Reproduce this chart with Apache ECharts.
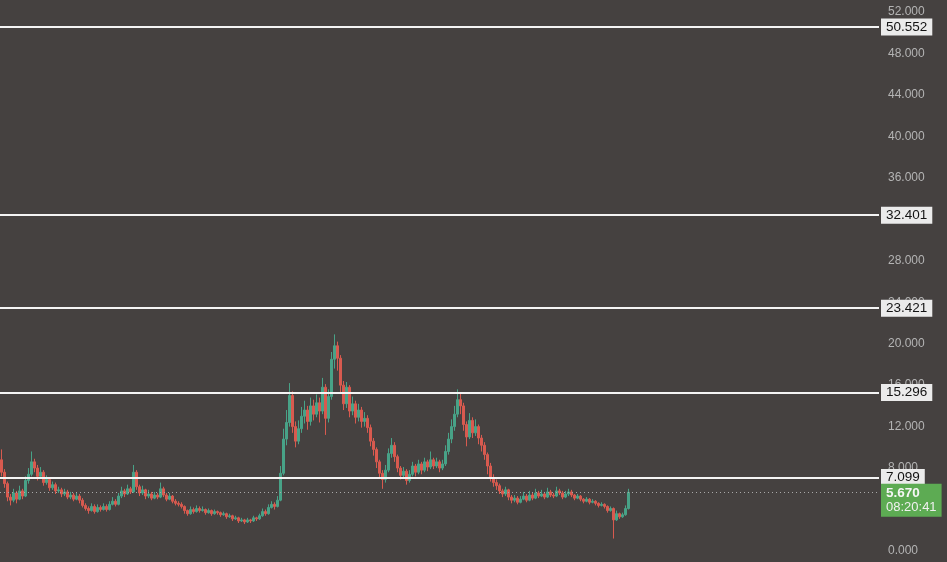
<!DOCTYPE html>
<html>
<head>
<meta charset="utf-8">
<script src="https://cdn.jsdelivr.net/npm/echarts@6/dist/echarts.min.js"></script>
<style>
html,body{margin:0;padding:0;background:#454140;}
#chart{width:947px;height:562px;}
</style>
</head>
<body>
<div id="chart"></div>
<script>
// ---- data ----
var opens = [
8.8,7.6,6.5,5.2,4.9,5.6,5.0,5.8,5.3,6.8,
7.4,8.6,8.0,7.2,7.6,6.6,6.9,6.1,6.4,5.8,
5.9,5.5,5.7,5.2,5.4,5.0,5.3,4.9,4.4,4.1,
3.9,4.3,3.8,4.2,4.0,4.3,4.0,4.5,4.8,4.5,
5.3,5.8,5.5,6.0,5.7,7.6,6.2,5.6,5.9,5.3,
5.5,5.1,5.4,5.2,6.0,5.4,5.0,5.3,4.8,4.6,
4.5,4.3,3.9,3.6,4.0,3.8,4.1,3.9,4.0,3.7,
3.9,3.6,3.8,3.7,3.5,3.6,3.3,3.4,3.1,3.2,
2.9,3.0,2.8,3.0,2.9,3.2,3.1,3.4,3.8,3.6,
4.2,4.5,4.3,4.9,7.5,10.8,12.4,15.0,12.0,10.6,
11.8,13.0,13.6,12.5,14.0,13.2,14.3,13.5,15.8,12.8,
14.9,18.5,19.8,18.6,16.0,14.2,15.8,13.5,14.2,12.9,
13.6,12.5,12.8,11.9,10.6,9.8,8.6,7.5,6.9,7.8,
9.4,10.2,9.1,8.0,7.3,7.7,6.8,7.4,8.2,7.6,
8.4,7.8,8.6,8.1,8.8,8.2,8.6,8.0,8.4,9.6,
10.8,12.0,13.2,14.6,14.0,12.2,11.0,12.6,11.4,12.0,
10.9,10.2,9.3,8.2,7.1,6.6,6.3,5.8,5.5,5.9,
5.2,4.9,5.1,4.7,5.0,5.3,4.9,5.4,5.1,5.6,
5.3,5.5,5.2,5.7,5.4,5.3,5.8,5.6,5.2,5.5,
5.7,5.4,5.1,5.3,5.0,4.8,5.0,4.7,4.8,4.6,
4.4,4.5,4.3,3.9,4.1,3.0,3.6,3.3,3.5,4.1
];
var closes = [
7.6,6.5,5.2,4.9,5.6,5.0,5.8,5.3,6.8,7.4,
8.6,8.0,7.2,7.6,6.6,6.9,6.1,6.4,5.8,5.9,
5.5,5.7,5.2,5.4,5.0,5.3,4.9,4.4,4.1,3.9,
4.3,3.8,4.2,4.0,4.3,4.0,4.5,4.8,4.5,5.3,
5.8,5.5,6.0,5.7,7.6,6.2,5.6,5.9,5.3,5.5,
5.1,5.4,5.2,6.0,5.4,5.0,5.3,4.8,4.6,4.5,
4.3,3.9,3.6,4.0,3.8,4.1,3.9,4.0,3.7,3.9,
3.6,3.8,3.7,3.5,3.6,3.3,3.4,3.1,3.2,2.9,
3.0,2.8,3.0,2.9,3.2,3.1,3.4,3.8,3.6,4.2,
4.5,4.3,4.9,7.5,10.8,12.4,15.0,12.0,10.6,11.8,
13.0,13.6,12.5,14.0,13.2,14.3,13.5,15.8,12.8,14.9,
18.5,19.8,18.6,16.0,14.2,15.8,13.5,14.2,12.9,13.6,
12.5,12.8,11.9,10.6,9.8,8.6,7.5,6.9,7.8,9.4,
10.2,9.1,8.0,7.3,7.7,6.8,7.4,8.2,7.6,8.4,
7.8,8.6,8.1,8.8,8.2,8.6,8.0,8.4,9.6,10.8,
12.0,13.2,14.6,14.0,12.2,11.0,12.6,11.4,12.0,10.9,
10.2,9.3,8.2,7.1,6.6,6.3,5.8,5.5,5.9,5.2,
4.9,5.1,4.7,5.0,5.3,4.9,5.4,5.1,5.6,5.3,
5.5,5.2,5.7,5.4,5.3,5.8,5.6,5.2,5.5,5.7,
5.4,5.1,5.3,5.0,4.8,5.0,4.7,4.8,4.6,4.4,
4.5,4.3,3.9,4.1,3.0,3.6,3.3,3.5,4.1,5.67
];
var lows = [
7.2,6.1,4.8,4.4,4.7,4.6,4.9,5.0,5.2,6.5,
7.2,7.6,6.8,7.0,6.3,6.4,5.8,5.9,5.5,5.6,
5.2,5.3,5.0,5.0,4.8,4.9,4.6,4.2,3.9,3.6,
3.8,3.6,3.7,3.8,3.9,3.8,3.9,4.4,4.3,4.4,
5.1,5.2,5.4,5.5,5.6,5.9,5.3,5.4,5.0,5.1,
4.9,5.0,5.0,5.1,5.2,4.8,4.9,4.6,4.4,4.3,
4.1,3.6,3.4,3.5,3.6,3.7,3.7,3.8,3.5,3.6,
3.4,3.5,3.5,3.3,3.4,3.1,3.2,2.9,3.0,2.7,
2.8,2.6,2.7,2.7,2.8,2.9,3.0,3.3,3.4,3.5,
4.1,4.0,4.2,4.8,7.3,10.2,12.0,11.4,10.0,10.3,
11.4,12.3,11.7,12.1,12.6,12.9,12.4,13.2,11.2,12.4,
14.6,17.6,17.4,15.2,13.6,13.8,12.9,13.1,12.3,12.5,
11.9,12.0,11.4,10.1,9.2,8.0,7.0,6.0,6.6,7.6,
9.0,8.6,7.6,6.9,7.0,6.4,6.6,7.2,7.2,7.4,
7.4,7.6,7.7,7.9,7.9,8.0,7.6,7.8,8.2,9.3,
10.4,11.6,12.9,13.2,11.6,10.1,10.8,10.9,11.1,10.3,
9.6,8.8,7.4,6.7,6.2,5.9,5.5,5.2,5.3,4.9,
4.6,4.7,4.5,4.6,4.9,4.7,4.8,4.9,5.0,5.1,
5.2,5.0,5.1,5.2,5.1,5.2,5.4,5.0,5.1,5.3,
5.2,4.9,5.0,4.8,4.6,4.7,4.5,4.6,4.4,4.2,
4.3,4.1,3.7,3.8,1.2,2.9,3.1,3.2,3.4,4.0
];
var highs = [
9.8,7.9,6.7,5.5,6.0,5.8,6.3,6.0,7.2,8.0,
9.6,8.9,8.3,8.1,7.8,7.3,7.1,6.7,6.6,6.2,
6.1,6.0,5.9,5.7,5.6,5.6,5.5,5.1,4.6,4.3,
4.6,4.5,4.5,4.4,4.6,4.5,4.8,5.2,5.0,5.6,
6.2,6.0,6.4,6.2,8.3,7.8,6.4,6.3,6.0,5.9,
5.7,5.7,5.6,6.6,6.2,5.6,5.6,5.4,5.0,4.8,
4.7,4.4,4.0,4.3,4.2,4.4,4.3,4.3,4.1,4.1,
4.0,4.0,3.9,3.8,3.8,3.7,3.6,3.5,3.4,3.3,
3.2,3.1,3.2,3.1,3.4,3.3,3.6,4.1,4.0,4.5,
4.8,4.7,5.3,8.2,11.8,13.6,16.2,15.4,12.5,12.6,
13.9,14.5,14.0,14.8,14.6,15.1,14.8,16.7,16.1,15.6,
19.2,20.9,20.2,18.9,16.4,16.3,16.0,14.9,14.5,14.2,
13.9,13.4,13.1,12.2,10.9,10.0,8.8,7.8,8.3,9.9,
10.9,10.5,9.3,8.2,8.1,7.9,7.8,8.6,8.4,8.8,
8.6,9.0,8.8,9.6,9.0,9.0,8.8,8.8,10.2,11.4,
12.7,14.0,15.6,15.2,14.3,12.5,13.3,12.9,12.7,12.2,
11.2,10.5,9.5,8.5,7.4,6.9,6.5,6.0,6.2,6.0,
5.4,5.4,5.3,5.3,5.7,5.5,5.8,5.6,6.0,5.8,
5.9,5.7,6.1,5.9,5.6,6.2,6.0,5.8,5.8,6.0,
5.9,5.5,5.5,5.4,5.1,5.2,5.1,5.0,4.9,4.7,
4.7,4.6,4.4,4.3,4.2,3.9,3.7,3.7,4.4,6.0
];
var levels = [50.552, 32.401, 23.421, 15.296, 7.099];
var lastPrice = 5.670;
var countdown = '08:20:41';
var yMin = 0, yMax = 52, yStep = 4;
var totalSlots = 293; // candle slots incl. empty right-hand space

// ---- build ----
var categories = [];
for (var i = 0; i < totalSlots; i++) categories.push(String(i));
var ohlc = [];
for (var j = 0; j < closes.length; j++) ohlc.push([opens[j], closes[j], lows[j], highs[j]]);

var FONT = 'Liberation Sans, Arial, sans-serif';
var lineData = levels.map(function (v) {
  return {
    yAxis: v,
    lineStyle: { color: '#f4f4f4', width: 2, type: 'solid' },
    label: {
      show: true, position: 'end', distance: 2,
      formatter: v.toFixed(3),
      backgroundColor: '#ebebeb', color: '#131313',
      fontSize: 13.5, fontFamily: FONT,
      padding: [2, 5, 1, 5], lineHeight: 14
    }
  };
});
lineData.push({
  yAxis: lastPrice,
  lineStyle: { color: '#a8a8a8', width: 1, type: [1, 3] },
  label: {
    show: true, position: 'end', distance: 2, offset: [0, 8],
    formatter: '{p|' + lastPrice.toFixed(3) + '}\n{t|' + countdown + '}',
    backgroundColor: '#5dab53',
    padding: [2, 5, 2, 5], align: 'left',
    rich: {
      p: { color: '#f6f6f6', fontSize: 13.5, fontWeight: 'bold', fontFamily: FONT, lineHeight: 15 },
      t: { color: '#f0f0f0', fontSize: 13, fontFamily: FONT, lineHeight: 14 }
    }
  }
});

var chart = echarts.init(document.getElementById('chart'), null, { renderer: 'canvas' });
chart.setOption({
  animation: false,
  backgroundColor: '#454140',
  grid: { left: 0, right: 68, top: 12, bottom: 11, containLabel: false },
  xAxis: {
    type: 'category', data: categories, boundaryGap: true, show: false
  },
  yAxis: {
    type: 'value', position: 'right', min: yMin, max: yMax, interval: yStep,
    axisLine: { show: false }, axisTick: { show: false }, splitLine: { show: false },
    axisLabel: {
      color: '#b4b4b4', fontSize: 12, margin: 9, fontFamily: FONT,
      formatter: function (v) { return v.toFixed(3); }
    }
  },
  series: [{
    type: 'candlestick',
    data: ohlc,
    barWidth: 2,
    itemStyle: {
      color: '#48a287', color0: '#d85a4f',
      borderColor: '#48a287', borderColor0: '#d85a4f', borderWidth: 1
    },
    markLine: {
      silent: true, symbol: 'none', animation: false,
      data: lineData
    }
  }]
});
</script>
</body>
</html>
